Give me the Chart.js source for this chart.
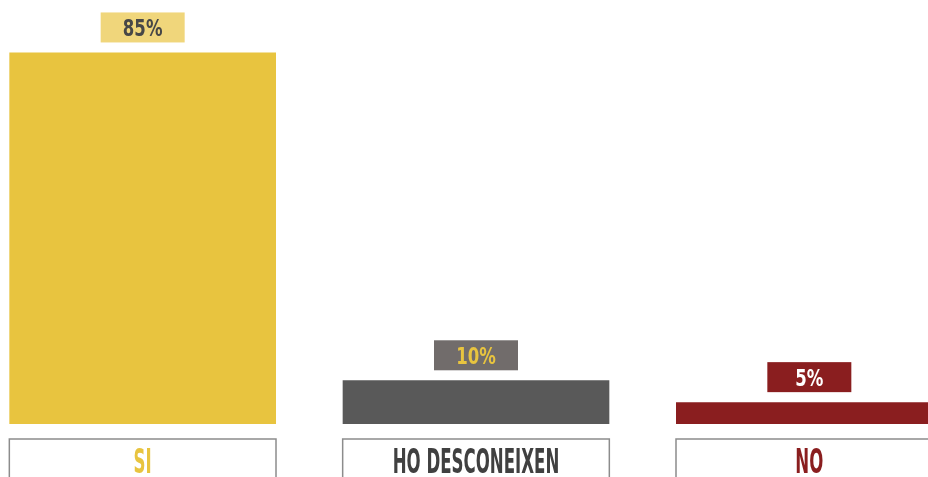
<!DOCTYPE html>
<html>
<head>
<meta charset="utf-8">
<script src="https://cdn.jsdelivr.net/npm/chart.js@4"></script>
<style>
	body { margin: 0; overflow: hidden; background: #fff; }
	#wrap { position: absolute; left: -24px; top: 0; width: 1000px; height: 477px; }
</style>
</head>
<body>
<div id="wrap"><canvas id="myChart"></canvas></div>
<script>
const categories = ["SI", "HO DESCONEIXEN", "NO"];
const values = [85, 10, 5];

const barColors = ["#E8C43F", "#595959", "#8A1E1F"];
const boxColors = ["#F0D67B", "#716C6B", "#8A1E1F"];
const valueTextColors = ["#474747", "#E8C43F", "#FFFFFF"];
const catTextColors = ["#E8C43F", "#404040", "#8A1E1F"];

const FONT = '"DejaVu Sans Condensed", "DejaVu Sans", sans-serif';

// condensed text: squeeze horizontally, stretch vertically
function drawText(ctx, text, x, y, size, sx, sy) {
	ctx.save();
	ctx.translate(x, y);
	ctx.scale(sx, sy);
	ctx.font = 'bold ' + size + 'px ' + FONT;
	ctx.textAlign = 'center';
	ctx.textBaseline = 'alphabetic';
	ctx.fillText(text, 0, 0);
	ctx.restore();
}

// draws the % boxes above bars and the outlined category boxes below
const boxLabels = {
	id: 'boxLabels',
	afterDatasetsDraw(chart) {
		const ctx = chart.ctx;
		const bottom = chart.chartArea.bottom;
		chart.getDatasetMeta(0).data.forEach((bar, i) => {
			const left = bar.x - bar.width / 2;
			ctx.save();

			ctx.fillStyle = boxColors[i];
			ctx.fillRect(bar.x - 42, bar.y - 40, 84, 30);
			ctx.fillStyle = valueTextColors[i];
			drawText(ctx, values[i] + '%', bar.x, bar.y - 16, 23, 0.8, 1);

			ctx.strokeStyle = '#8C8C8C';
			ctx.lineWidth = 1.5;
			ctx.strokeRect(left, bottom + 15, bar.width, 60);

			ctx.fillStyle = catTextColors[i];
			drawText(ctx, categories[i], bar.x, bottom + 49, 26, 0.71, 1.27);
			ctx.restore();
		});
	}
};

new Chart(document.getElementById("myChart"), {
	type: "bar",
	data: {
		labels: categories,
		datasets: [{
			data: values,
			backgroundColor: barColors,
			borderWidth: 0,
			barPercentage: 0.8,
			categoryPercentage: 1
		}]
	},
	options: {
		responsive: true,
		maintainAspectRatio: false,
		animation: false,
		layout: { padding: { top: 0, bottom: 53, left: 0, right: 0 } },
		plugins: {
			legend: { display: false },
			tooltip: { enabled: false }
		},
		scales: {
			x: { display: false },
			y: { display: false, min: 0, max: 97 }
		}
	},
	plugins: [boxLabels]
});
</script>
</body>
</html>
